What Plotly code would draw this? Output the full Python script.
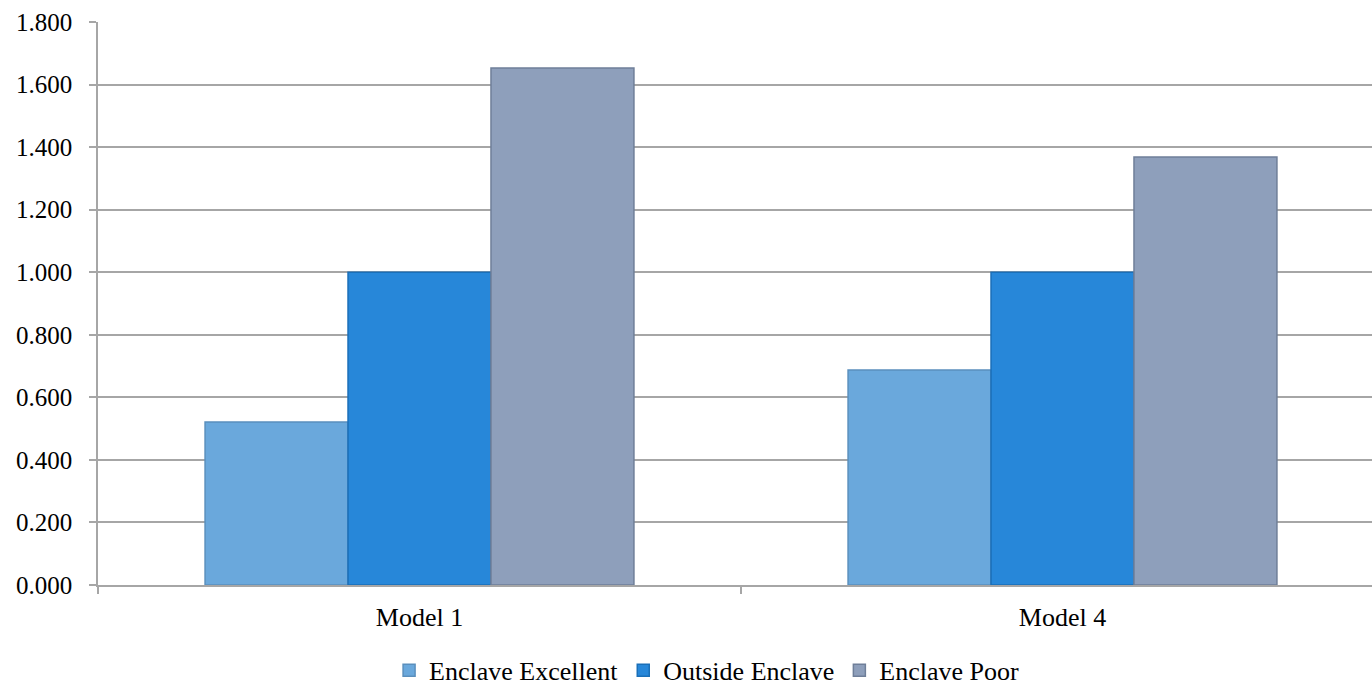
import plotly.graph_objects as go

categories = ["Model 1", "Model 4"]
series_names = ["Enclave Excellent", "Outside Enclave", "Enclave Poor"]
enclave_excellent = [0.521, 0.687]
outside_enclave = [1.000, 1.000]
enclave_poor = [1.653, 1.368]
y_ticks = [0, 0.2, 0.4, 0.6, 0.8, 1.0, 1.2, 1.4, 1.6, 1.8]

colors = ["#6aa8dc", "#2787d9", "#8e9fbb"]
edge_colors = ["#5a8fbd", "#1a6fb8", "#6f7f99"]

fig = go.Figure()
for name, vals, c, ec in zip(series_names, [enclave_excellent, outside_enclave, enclave_poor], colors, edge_colors):
    fig.add_trace(go.Bar(
        x=categories, y=vals, name=name,
        marker=dict(color=c, line=dict(color=ec, width=1.5)),
    ))

font = "Liberation Serif, Times New Roman, serif"
fig.update_layout(
    width=1372, height=691,
    margin=dict(l=98, r=0, t=22, b=106, autoexpand=False),
    paper_bgcolor="white", plot_bgcolor="white",
    barmode="group", bargap=0.333, bargroupgap=0,
    font=dict(family=font, size=26, color="black"),
    legend=dict(orientation="h", xref="container", x=0.515, xanchor="center",
                yref="container", y=0.03, yanchor="middle",
                font=dict(family=font, size=26), itemwidth=30, traceorder="normal"),
    showlegend=True,
)
fig.update_yaxes(
    range=[0, 1.8], tickvals=y_ticks, tickformat=".3f",
    showgrid=True, gridcolor="#a6a6a6", gridwidth=1.5,
    showline=True, linecolor="#a6a6a6", linewidth=1.5,
    ticks="outside", ticklen=7, tickcolor="#a6a6a6", tickwidth=1.5,
    zeroline=False, tickfont=dict(family=font, size=25), ticklabelstandoff=12,
)
fig.update_xaxes(
    range=[-0.5, -0.5 + 1274 / 643],
    showline=True, linecolor="#a6a6a6", linewidth=1.5,
    ticks="outside", ticklen=7, tickcolor="#a6a6a6", tickwidth=1.5,
    tickson="boundaries", showgrid=False,
    tickfont=dict(family=font, size=26), ticklabelstandoff=8,
)
fig.write_html("out.html")
